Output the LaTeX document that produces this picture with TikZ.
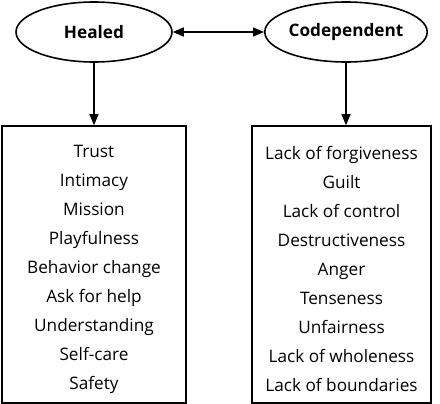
\documentclass[tikz,border=0pt]{standalone}
\usepackage{fontspec}
\setmainfont{Open Sans}
\usetikzlibrary{shapes.geometric,arrows.meta}
\begin{document}
\begin{tikzpicture}[x=1pt,y=-1pt,
  oval/.style={ellipse,draw,line width=1.6pt,minimum width=156pt,minimum height=60pt,inner sep=0pt,font=\fontsize{17.2}{20}\selectfont\bfseries},
  listbox/.style={draw,line width=1.6pt,inner sep=0pt,minimum height=277pt},
  listtext/.style={inner sep=0pt,align=center,font=\fontsize{17.2}{29}\selectfont},
  conn/.style={line width=1.2pt,-{Triangle[length=11pt,width=9pt]}}]
\useasboundingbox (0,0) rectangle (440,404);
\node[oval] (healed) at (94,32) {Healed};
\node[oval] (codep) at (346,32) {Codependent};
\node[listbox,minimum width=184pt] (lbox) at (94,264.5) {};
\node[listbox,minimum width=179pt] (rbox) at (341.5,264.5) {};
\node[listtext] (ltext) at ([yshift=-4.5pt]lbox.center)
 {Trust\\Intimacy\\Mission\\Playfulness\\Behavior change\\Ask for help\\Understanding\\Self-care\\Safety};
\node[listtext] (rtext) at ([yshift=-4.5pt]rbox.center)
 {Lack of forgiveness\\Guilt\\Lack of control\\Destructiveness\\Anger\\Tenseness\\Unfairness\\Lack of wholeness\\Lack of boundaries};
\draw[conn,{Triangle[length=11pt,width=9pt]}-{Triangle[length=11pt,width=9pt]}] (healed) -- (codep);
\draw[conn] (healed.south) -- (lbox.north);
\draw[conn] (codep.south) -- (codep.south |- rbox.north);
\end{tikzpicture}
\end{document}
